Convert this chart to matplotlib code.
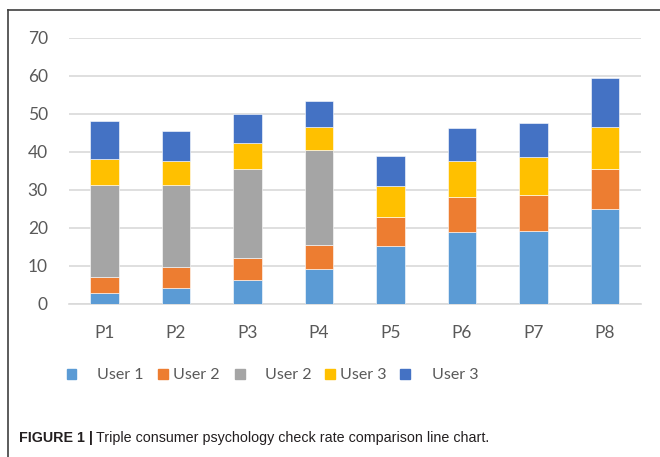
import matplotlib
matplotlib.use("Agg")
import matplotlib.pyplot as plt
import numpy as np
from matplotlib.lines import Line2D
from matplotlib.patches import Rectangle

categories = ["P1", "P2", "P3", "P4", "P5", "P6", "P7", "P8"]
user1 = [2.8, 4.1, 6.3, 9.1, 15.2, 18.8, 19.1, 25.0]
user2_orange = [4.2, 5.5, 5.9, 6.3, 7.7, 9.4, 9.5, 10.6]
user2_gray = [24.2, 21.8, 23.2, 25.0, 0, 0, 0, 0]
user3_yellow = [6.9, 6.1, 6.9, 6.1, 8.2, 9.3, 10.0, 10.8]
user3_blue = [10.0, 7.9, 7.7, 6.9, 7.9, 8.7, 9.0, 13.1]

series = [user1, user2_orange, user2_gray, user3_yellow, user3_blue]
labels = ["User 1", "User 2", "User 2", "User 3", "User 3"]
colors = ["#5B9BD5", "#ED7D31", "#A5A5A5", "#FFC000", "#4472C4"]

yticks = [0, 10, 20, 30, 40, 50, 60, 70]

plt.rcParams['font.family'] = ['Lato', 'DejaVu Sans']

fig = plt.figure(figsize=(6.6, 4.57), dpi=100)
ax = fig.add_axes([0.104, 0.3348, 0.867, 0.5827])

x = np.arange(len(categories))
bottom = np.zeros(len(categories))
for vals, c in zip(series, colors):
    vals = np.array(vals)
    ax.bar(x, vals, 0.4, bottom=bottom, color=c, edgecolor="white", linewidth=0.4, zorder=3)
    bottom += vals

ax.set_xlim(-0.5, len(categories) - 0.5)
ax.set_ylim(0, 70)
ax.set_yticks(yticks)
ax.set_xticks(x)
ax.set_xticklabels(categories)
ax.yaxis.grid(True, color="#D9D9D9", linewidth=1.2, zorder=0)
ax.tick_params(axis="both", length=0, labelsize=12.5, colors="#595959")
ax.tick_params(axis="x", pad=15)
ax.tick_params(axis="y", pad=15)
for s in ["top", "right", "left"]:
    ax.spines[s].set_visible(False)
ax.spines["bottom"].set_color("#D9D9D9")
ax.spines["bottom"].set_linewidth(1.2)

# legend drawn by hand to keep the uneven Excel spacing
marker_x = [71.7, 163, 240, 330, 405]
text_x = [97, 173, 265, 340, 432]
ly = 374
for mx, tx, c, lab in zip(marker_x, text_x, colors, labels):
    fig.patches.append(Rectangle(((mx - 4.7) / 660, 1 - (ly + 4.7) / 457), 9.4 / 660, 9.4 / 457,
                                 transform=fig.transFigure, color=c, figure=fig))
    fig.text(tx / 660, 1 - (ly + 1) / 457, lab, fontsize=11.5, color="#595959", va="center", ha="left")

# outer frame
fig.add_artist(Line2D([8 / 660, 1], [1 - 10 / 457, 1 - 10 / 457], color="#404040", lw=1.2,
                      transform=fig.transFigure))
fig.add_artist(Line2D([8 / 660, 8 / 660], [1 - 10 / 457, 0], color="#404040", lw=1.2,
                      transform=fig.transFigure))

# caption
cap_font = ['Liberation Sans Narrow', 'Liberation Sans', 'DejaVu Sans']
t1 = fig.text(19 / 660, 1 - 438 / 457, "FIGURE 1 |", fontsize=10.3, fontweight="bold",
              color="#231F20", va="center", ha="left", family=cap_font)
fig.canvas.draw()
bb = t1.get_window_extent()
fig.text((bb.x1 + 3) / 660, 1 - 438 / 457, "Triple consumer psychology check rate comparison line chart.",
         fontsize=10.3, color="#231F20", va="center", ha="left", family=cap_font)

fig.savefig("out.png", dpi=100)
